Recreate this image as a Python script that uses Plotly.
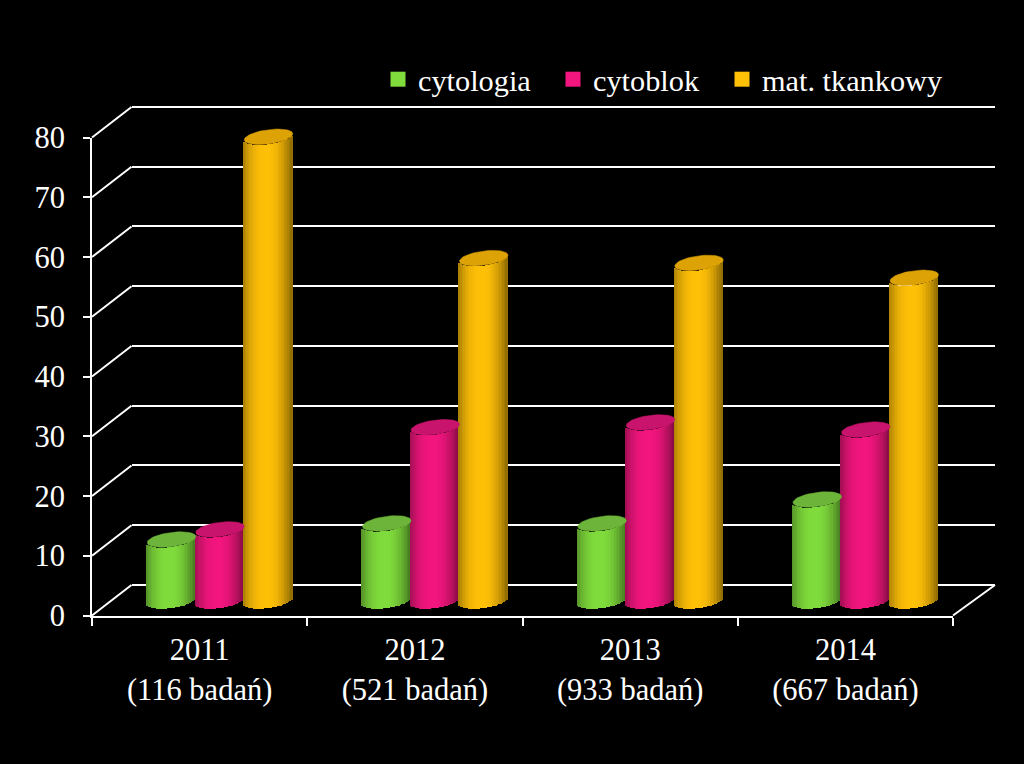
import math
import plotly.graph_objects as go

# ---- data
categories = ["2011<br>(116 badań)", "2012<br>(521 badań)", "2013<br>(933 badań)", "2014<br>(667 badań)"]
cytologia = [10.2, 12.9, 12.9, 16.9]
cytoblok = [11.9, 29.0, 29.8, 28.6]
mat_tkankowy = [77.6, 57.3, 56.5, 54.0]
y_ticks = [0, 10, 20, 30, 40, 50, 60, 70, 80]

series = [
    ("cytologia", cytologia, (128, 220, 60), "#6DB53A", 378, ""),
    ("cytoblok", cytoblok, (242, 22, 126), "#C8146C", 553, "2"),
    ("mat. tkankowy", mat_tkankowy, (255, 192, 8), "#DDA206", 722, "3"),
]

W, H = 1024, 764
def px(x): return x / W
def py(y): return 1 - y / H

FONT = "Liberation Serif"
WHITE = "#FFFFFF"

# geometry of the pseudo-3D box (pixels)
front = dict(x0=92, x1=953, y0=615.5, y1=137.5)
back = dict(x0=131.5, x1=995, y0=585, y1=107)
bars = dict(x0=112.4, x1=973.4, y0=600.5, y1=122.5)
UNIT = 478 / 80          # pixels per value unit

BAR_W = 48.5 / 215.25    # one cylinder, in category units
E = 1.2                  # half height of the end ellipse, in value units
TILT = 0.5               # tilt of the end ellipse, in value units
N = 31                   # vertical strips per cylinder
PAD = 3                  # value units of room round the axes so nothing is clipped

def shade(rgb, u):
    left = 0.34 * abs(u) ** 2.6 if u < 0 else 0
    right = 0.45 * abs(u) ** 2.0 if u > 0 else 0
    k = 1 - left - right
    return "rgb(%d,%d,%d)" % tuple(int(c * k) for c in rgb)

fig = go.Figure()

# back wall subplot (gridlines), drawn first
fig.add_trace(go.Scatter(x=[None], y=[None], xaxis="x", yaxis="y", showlegend=False, hoverinfo="skip"))
# front axes subplot
fig.add_trace(go.Scatter(x=categories, y=[None] * 4, xaxis="x2", yaxis="y2", showlegend=False, hoverinfo="skip"))

# cylinders: each is built from narrow bars with a curved base
for si, (name, vals, rgb, cap, lx, lg) in enumerate(series):
    for k in range(N):
        u = -1 + (2 * k + 1) / N
        sw = BAR_W / N
        curve = TILT * u - E * math.sqrt(max(0, 1 - u * u))
        xs = [i + (si - 1) * BAR_W + u * BAR_W / 2 for i in range(len(vals))]
        fig.add_trace(go.Bar(
            x=xs, y=vals, base=[curve] * len(vals), width=sw * 1.25,
            marker=dict(color=shade(rgb, u), line=dict(width=0)),
            xaxis="x3", yaxis="y3", showlegend=False, hoverinfo="skip",
        ))

# top caps
for si, (name, vals, rgb, cap, lx, lg) in enumerate(series):
    for i, v in enumerate(vals):
        cx = i + (si - 1) * BAR_W
        ts = [2 * math.pi * j / 48 for j in range(49)]
        fig.add_trace(go.Scatter(
            x=[cx + BAR_W / 2 * math.cos(t) for t in ts],
            y=[v + TILT * math.cos(t) + E * math.sin(t) for t in ts],
            mode="lines", line=dict(width=0.5, color=cap), fill="toself", fillcolor=cap,
            xaxis="x3", yaxis="y3", showlegend=False, hoverinfo="skip",
        ))

# legend entries
for name, vals, rgb, cap, lx, lg in series:
    fig.add_trace(go.Scatter(
        x=[None], y=[None], mode="markers", name=name, legend="legend" + lg,
        marker=dict(symbol="square", size=15, color="rgb(%d,%d,%d)" % rgb),
        xaxis="x3", yaxis="y3",
    ))

# diagonals joining front axis and back wall
shapes = []
for t in y_ticks:
    f = t / 80
    shapes.append(dict(
        type="line", xref="paper", yref="paper", layer="below",
        x0=px(front["x0"]), y0=py(front["y0"] + (front["y1"] - front["y0"]) * f),
        x1=px(back["x0"]), y1=py(back["y0"] + (back["y1"] - back["y0"]) * f),
        line=dict(color=WHITE, width=2),
    ))
shapes.append(dict(
    type="line", xref="paper", yref="paper", layer="below",
    x0=px(front["x1"]), y0=py(front["y0"]), x1=px(back["x1"]), y1=py(back["y0"]),
    line=dict(color=WHITE, width=2),
))

def dom_x(b): return [px(b["x0"]), px(b["x1"])]
def dom_y(b, pad=0): return [py(b["y0"] + pad * UNIT), py(b["y1"] - pad * UNIT)]

def legend_opts(lx):
    return dict(
        orientation="h", x=px(lx), y=py(53), xanchor="left", yanchor="top",
        font=dict(family=FONT, size=30.3, color=WHITE), bgcolor="rgba(0,0,0,0)",
        itemwidth=30, itemclick=False, itemdoubleclick=False,
    )

fig.update_layout(
    width=W, height=H, margin=dict(l=0, r=0, t=0, b=0, autoexpand=False),
    paper_bgcolor="#000000", plot_bgcolor="rgba(0,0,0,0)",
    barmode="overlay", bargap=0, shapes=shapes,
    font=dict(family=FONT, color=WHITE, size=30),
    legend=legend_opts(series[0][4]),
    legend2=legend_opts(series[1][4]),
    legend3=legend_opts(series[2][4]),
    xaxis=dict(domain=dom_x(back), range=[0, 1], visible=False, anchor="y", fixedrange=True),
    yaxis=dict(domain=dom_y(back, PAD), range=[-PAD, 80 + PAD], anchor="x", tickvals=y_ticks, showticklabels=False,
               showgrid=True, gridcolor=WHITE, gridwidth=2, zeroline=False, showline=False,
               ticks="", fixedrange=True),
    xaxis2=dict(domain=dom_x(front), anchor="y2", type="category", categoryorder="array",
                categoryarray=categories, range=[-0.5, 3.5], tickson="boundaries",
                showgrid=False, zeroline=False, showline=True, linecolor=WHITE, linewidth=2,
                ticks="outside", ticklen=8, tickwidth=2, tickcolor=WHITE, ticklabelstandoff=6,
                tickfont=dict(family=FONT, size=30.5, color=WHITE), fixedrange=True),
    yaxis2=dict(domain=dom_y(front), anchor="x2", range=[0, 80], tickvals=y_ticks,
                showgrid=False, zeroline=False, showline=True, linecolor=WHITE, linewidth=2,
                ticks="outside", ticklen=7, tickwidth=2, tickcolor=WHITE, ticklabelstandoff=12,
                tickfont=dict(family=FONT, size=30.5, color=WHITE), fixedrange=True),
    xaxis3=dict(domain=dom_x(bars), anchor="y3", range=[-0.5, 3.5], visible=False, fixedrange=True),
    yaxis3=dict(domain=dom_y(bars, PAD), anchor="x3", range=[-PAD, 80 + PAD], visible=False, fixedrange=True),
)

fig.write_html("out.html", config={"displayModeBar": False},
               post_script="document.body.style.margin='0';document.body.style.background='#000';document.body.style.overflow='hidden';")
